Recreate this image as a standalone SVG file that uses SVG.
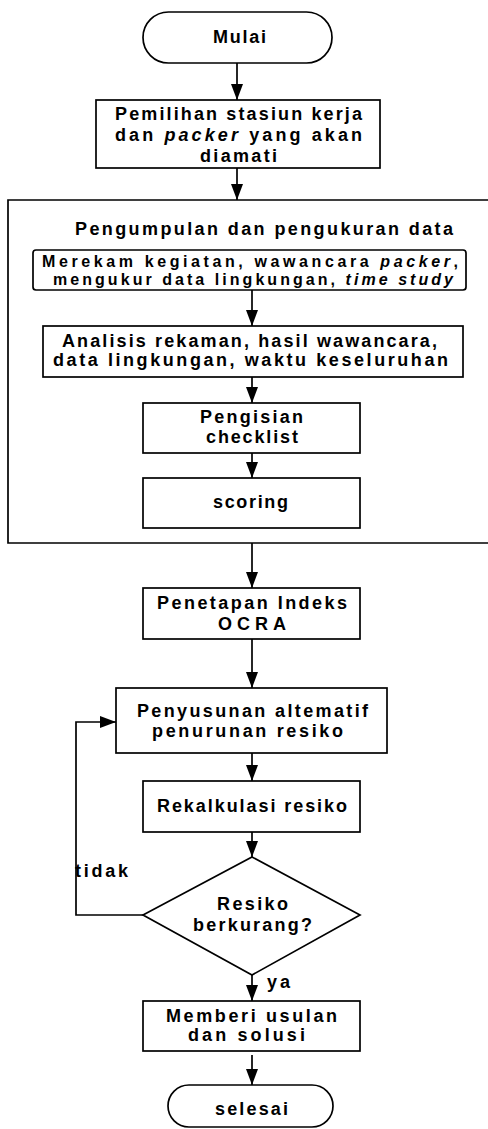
<svg xmlns="http://www.w3.org/2000/svg" width="488" height="1129" viewBox="0 0 488 1129">
<style>
.b{fill:#fff;stroke:#000;stroke-width:1.7}
.c{fill:none;stroke:#000;stroke-width:1.7}
text{font-family:"Liberation Sans",Arial,sans-serif;font-weight:bold;font-size:18px;fill:#000}
.s{font-size:16px}
.i{font-style:italic}
</style>
<defs>
<marker id="ah" viewBox="0 0 16 12" markerWidth="16" markerHeight="12" markerUnits="userSpaceOnUse" refX="16" refY="6" orient="auto">
<path d="M0,0 L16,6 L0,12 z" fill="#000"/>
</marker>
</defs>
<rect width="488" height="1129" fill="#fff"/>
<g id="group-data">
<path class="c" d="M492,200 H8 V543 H492"/>
<text x="75" y="235" textLength="378" lengthAdjust="spacing">Pengumpulan dan pengukuran data</text>
</g>
<g id="connectors">
<path class="c" d="M237,63 V100" marker-end="url(#ah)"/>
<path class="c" d="M237,168 V200" marker-end="url(#ah)"/>
<path class="c" d="M252,290 V326" marker-end="url(#ah)"/>
<path class="c" d="M252,377 V403" marker-end="url(#ah)"/>
<path class="c" d="M252,453 V478" marker-end="url(#ah)"/>
<path class="c" d="M252,543 V588" marker-end="url(#ah)"/>
<path class="c" d="M252,639 V688" marker-end="url(#ah)"/>
<path class="c" d="M252,753 V781" marker-end="url(#ah)"/>
<path class="c" d="M252,832 V857" marker-end="url(#ah)"/>
<path class="c" d="M252,975 V1001" marker-end="url(#ah)"/>
<path class="c" d="M252,1055 V1085" marker-end="url(#ah)"/>
<path class="c" d="M143,915 H76 V722 H116" marker-end="url(#ah)"/>
<text x="75" y="877" textLength="53" lengthAdjust="spacing">tidak</text>
<text x="267" y="988" textLength="23" lengthAdjust="spacing">ya</text>
</g>
<g id="start">
<rect class="b" x="143" y="12" width="189" height="51" rx="25.5"/>
<text x="213" y="43" textLength="53" lengthAdjust="spacing">Mulai</text>
</g>
<g id="pemilihan">
<rect class="b" x="96" y="100" width="284" height="68"/>
<text x="115" y="120" textLength="247" lengthAdjust="spacing">Pemilihan stasiun kerja</text>
<text x="115" y="141" textLength="247" lengthAdjust="spacing">dan <tspan class="i">packer</tspan> yang akan</text>
<text x="200" y="162" textLength="77" lengthAdjust="spacing">diamati</text>
</g>
<g id="merekam">
<rect class="b" x="33" y="250" width="433" height="40" rx="3"/>
<text class="s" x="42" y="267" textLength="416" lengthAdjust="spacing">Merekam kegiatan, wawancara <tspan class="i">packer</tspan>,</text>
<text class="s" x="53" y="285" textLength="400" lengthAdjust="spacing">mengukur data lingkungan, <tspan class="i">time study</tspan></text>
</g>
<g id="analisis">
<rect class="b" x="43" y="326" width="420" height="51"/>
<text x="62" y="347" textLength="375" lengthAdjust="spacing">Analisis rekaman, hasil wawancara,</text>
<text x="53" y="366" textLength="395" lengthAdjust="spacing">data lingkungan, waktu keseluruhan</text>
</g>
<g id="pengisian">
<rect class="b" x="143" y="403" width="217" height="50"/>
<text x="200" y="423" textLength="103" lengthAdjust="spacing">Pengisian</text>
<text x="206" y="443" textLength="92" lengthAdjust="spacing">checklist</text>
</g>
<g id="scoring">
<rect class="b" x="143" y="478" width="217" height="50"/>
<text x="213" y="508" textLength="75" lengthAdjust="spacing">scoring</text>
</g>
<g id="penetapan">
<rect class="b" x="143" y="588" width="217" height="51"/>
<text x="157" y="609" textLength="190" lengthAdjust="spacing">Penetapan Indeks</text>
<text x="218" y="630" textLength="68" lengthAdjust="spacing">OCRA</text>
</g>
<g id="penyusunan">
<rect class="b" x="116" y="688" width="271" height="65"/>
<text x="137" y="717" textLength="231" lengthAdjust="spacing">Penyusunan altematif</text>
<text x="152" y="737" textLength="191" lengthAdjust="spacing">penurunan resiko</text>
</g>
<g id="rekalkulasi">
<rect class="b" x="143" y="781" width="217" height="51"/>
<text x="157" y="812" textLength="190" lengthAdjust="spacing">Rekalkulasi resiko</text>
</g>
<g id="decision">
<path class="b" d="M252,857 L360,915 L252,975 L143,915 z"/>
<text x="217" y="910" textLength="71" lengthAdjust="spacing">Resiko</text>
<text x="193" y="931" textLength="119" lengthAdjust="spacing">berkurang?</text>
</g>
<g id="memberi">
<rect class="b" x="143" y="1001" width="217" height="50"/>
<text x="166" y="1022" textLength="171" lengthAdjust="spacing">Memberi usulan</text>
<text x="188" y="1041" textLength="117" lengthAdjust="spacing">dan solusi</text>
</g>
<g id="end">
<rect class="b" x="168" y="1085" width="165" height="42" rx="21"/>
<text x="215" y="1115" textLength="73" lengthAdjust="spacing">selesai</text>
</g>
</svg>
